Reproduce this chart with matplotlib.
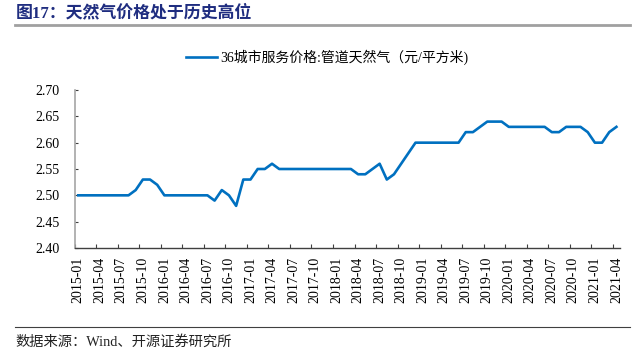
import matplotlib
matplotlib.use('Agg')
import matplotlib.pyplot as plt
from matplotlib.lines import Line2D
import numpy as np

plt.rcParams['font.family'] = ['Liberation Serif', 'Noto Sans CJK SC']
plt.rcParams['axes.unicode_minus'] = False

# 月度数据 2015-01 ~ 2021-04
months = ['%d-%02d' % (2015 + i // 12, i % 12 + 1) for i in range(76)]
price = [2.50, 2.50, 2.50, 2.50, 2.50, 2.50, 2.50, 2.50, 2.51, 2.53, 2.53, 2.52,
         2.50, 2.50, 2.50, 2.50, 2.50, 2.50, 2.50, 2.49, 2.51, 2.50, 2.48, 2.53,
         2.53, 2.55, 2.55, 2.56, 2.55, 2.55, 2.55, 2.55, 2.55, 2.55, 2.55, 2.55,
         2.55, 2.55, 2.55, 2.54, 2.54, 2.55, 2.56, 2.53, 2.54, 2.56, 2.58, 2.60,
         2.60, 2.60, 2.60, 2.60, 2.60, 2.60, 2.62, 2.62, 2.63, 2.64, 2.64, 2.64,
         2.63, 2.63, 2.63, 2.63, 2.63, 2.63, 2.62, 2.62, 2.63, 2.63, 2.63, 2.62,
         2.60, 2.60, 2.62, 2.63]
series_name = '36城市服务价格:管道天然气（元/平方米)'
yticks = [2.40, 2.45, 2.50, 2.55, 2.60, 2.65, 2.70]

W, H = 638, 354
fig = plt.figure(figsize=(W / 100, H / 100), dpi=100)
ax = fig.add_axes([74.7 / W, 1 - 248 / H, (620 - 74.7) / W, (248 - 90) / H])

x = np.arange(len(price))
ax.plot(x, price, color='#0070C0', lw=1.9, label=series_name)

ax.set_xlim(-0.5, len(price) - 0.5)
ax.set_ylim(2.40, 2.70)
ax.set_yticks(yticks)
ax.set_yticklabels(['%.2f' % v for v in yticks], fontsize=10)

lab_idx = np.arange(0, len(price), 3)
ax.set_xticks(lab_idx)
ax.set_xticklabels([months[i] for i in lab_idx], rotation=90, fontsize=10)
ax.set_xticks(lab_idx - 0.5, minor=True)
ax.tick_params(axis='x', which='major', length=0, pad=6.5)
ax.tick_params(axis='x', which='minor', direction='in', length=3, width=0.8, color='#404040')
ax.tick_params(axis='y', direction='in', length=2.5, width=0.8, color='#404040', pad=11)

for s in ['top', 'right']:
    ax.spines[s].set_visible(False)
ax.spines['left'].set_color('#A6A6A6')
ax.spines['left'].set_linewidth(1.2)
ax.spines['bottom'].set_color('#404040')
ax.spines['bottom'].set_linewidth(1.0)

fig.legend(loc='center left', bbox_to_anchor=(186 / W, 1 - 57 / H), frameon=False,
           fontsize=10, handlelength=2.2, handletextpad=0.25, borderpad=0, borderaxespad=0)

# 标题与来源
fig.text(16 / W, 1 - 13 / H, '图17：天然气价格处于历史高位', fontsize=12.2, fontweight='bold',
         color='#1F2D80', va='center', ha='left')
fig.add_artist(Line2D([15 / W, 630 / W], [1 - 25 / H, 1 - 25 / H], color='#A0A0A0', lw=2))
fig.add_artist(Line2D([15 / W, 630 / W], [1 - 327 / H, 1 - 327 / H], color='#404040', lw=0.8))
fig.text(15 / W, 1 - 341.5 / H, '数据来源：Wind、开源证券研究所', fontsize=10.3,
         va='center', ha='left', color='#222222')

fig.savefig('out.png', dpi=100)
